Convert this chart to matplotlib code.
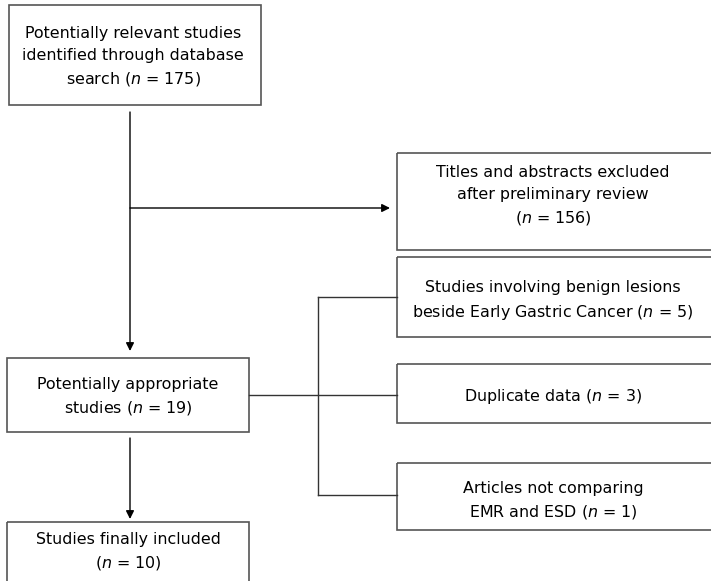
import matplotlib
matplotlib.use("Agg")
import matplotlib.pyplot as plt
from matplotlib.patches import Rectangle

# box texts (n in italics via mathtext)
labels = [
    "Potentially relevant studies\nidentified through database\nsearch ($n$ = 175)",
    "Titles and abstracts excluded\nafter preliminary review\n($n$ = 156)",
    "Studies involving benign lesions\nbeside Early Gastric Cancer ($n$ = 5)",
    "Potentially appropriate\nstudies ($n$ = 19)",
    "Duplicate data ($n$ = 3)",
    "Articles not comparing\nEMR and ESD ($n$ = 1)",
    "Studies finally included\n($n$ = 10)",
]

# layout in pixel coords: x0, y0, x1, y1, text x, text y
boxes = [
    (9, 5, 261, 105, 133, 57),
    (397, 153, 715, 250, 553, 196),
    (397, 257, 715, 337, 553, 301),
    (7, 358, 249, 432, 128, 397),
    (397, 364, 715, 423, 553, 397),
    (397, 463, 715, 530, 553, 501),
    (7, 522, 249, 600, 128, 552),
]

W, H = 711, 581
fig = plt.figure(figsize=(W / 100, H / 100), dpi=100)
ax = fig.add_axes([0, 0, 1, 1])
ax.set_xlim(0, W)
ax.set_ylim(H, 0)
ax.axis("off")

edge = "#555555"
for (x0, y0, x1, y1, tx, ty), lab in zip(boxes, labels):
    ax.add_patch(Rectangle((x0, y0), x1 - x0, y1 - y0, fill=False,
                           edgecolor=edge, lw=1.2))
    ax.text(tx, ty, lab, ha="center", va="center", fontsize=11.4,
            linespacing=1.55, family="DejaVu Sans")

arrow = dict(arrowstyle="-|>", color="black", lw=1.0, mutation_scale=12,
             shrinkA=0, shrinkB=0)


def arr(x0, y0, x1, y1):
    ax.annotate("", xy=(x1, y1), xytext=(x0, y0), arrowprops=arrow)


arr(130, 112, 130, 351)
arr(130, 208, 390, 208)
arr(130, 438, 130, 519)

# exclusion branches
ax.plot([249, 397], [395, 395], color="#333333", lw=1.0)
ax.plot([318, 318], [297, 495], color="#333333", lw=1.0)
ax.plot([318, 397], [297, 297], color="#333333", lw=1.0)
ax.plot([318, 397], [495, 495], color="#333333", lw=1.0)

fig.savefig("out.png", dpi=100)
